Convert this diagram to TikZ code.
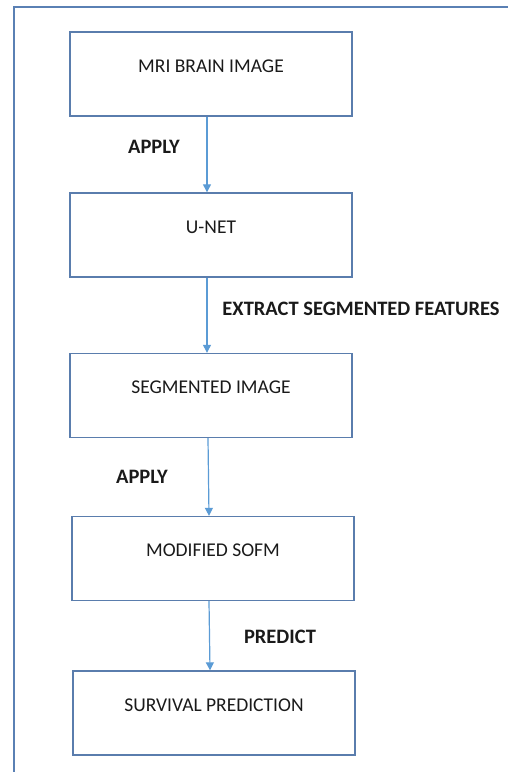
\documentclass[tikz,border=0pt]{standalone}
\usepackage{fontspec}
\setmainfont{Carlito}
\usetikzlibrary{arrows.meta}
\definecolor{framecol}{HTML}{5A80B4}
\definecolor{boxcol}{HTML}{5A7DAD}
\definecolor{arrowcol}{HTML}{5B9BD5}
\definecolor{inkcol}{HTML}{1A1A1A}
\tikzset{
  stage/.style={draw=boxcol, line width=1.4pt, minimum width=282pt, minimum height=84pt,
    inner sep=0pt, text=inkcol, font=\fontsize{19.5}{22}\selectfont,
    text height=14pt, text depth=17.6pt},
  flow/.style={draw=arrowcol, line width=1.2pt, -{Triangle[length=8pt,width=8pt]}},
  tag/.style={text=inkcol, font=\fontsize{20.5}{24}\selectfont\bfseries, inner sep=0pt},
}
\begin{document}
\begin{tikzpicture}[x=1pt,y=-1pt]
\useasboundingbox (0,0) rectangle (508,772);
% outer frame
\draw[framecol, line width=1.4pt] (14,772) -- (14,7) -- (510,7);
% stages
\node[stage] (b1) at (211,74) {MRI BRAIN IMAGE};
\node[stage] (b2) at (211,235) {U-NET};
\node[stage] (b3) at (211,395.5) {SEGMENTED IMAGE};
\node[stage] (b4) at (213,558.5) {MODIFIED SOFM};
\node[stage] (b5) at (214,713) {SURVIVAL PREDICTION};
% connectors
\draw[flow] ([xshift=-4pt]b1.south) -- ([xshift=-4pt]b2.north);
\draw[flow] ([xshift=-4pt]b2.south) -- ([xshift=-4pt]b3.north);
\draw[flow] ([xshift=-3pt]b3.south) -- ([xshift=-4pt]b4.north);
\draw[flow] ([xshift=-4pt]b4.south) -- ([xshift=-4pt]b5.north);
% connector labels
\node[tag] (l1) at (154,147) {APPLY};
\node[tag] (l2) at (361,309) {EXTRACT SEGMENTED FEATURES};
\node[tag] (l3) at (142,477) {APPLY};
\node[tag] (l4) at (280,637) {PREDICT};
\end{tikzpicture}
\end{document}
